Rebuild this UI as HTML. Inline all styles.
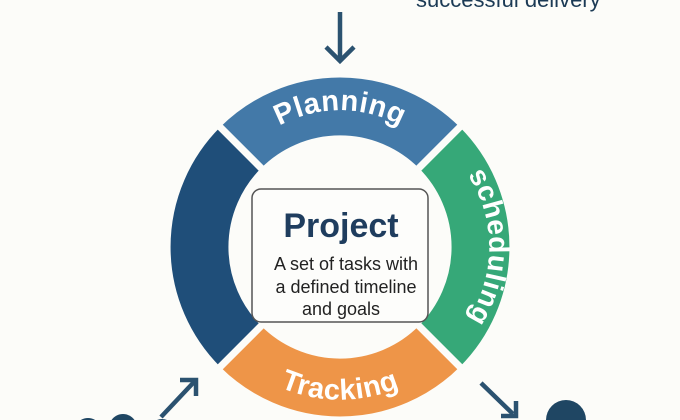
<!DOCTYPE html>
<html><head><meta charset="utf-8"><style>
html,body{margin:0;padding:0;background:#fcfcf9;width:680px;height:420px;overflow:hidden;}
svg{display:block;}
text{font-family:"Liberation Sans",sans-serif;}
</style></head><body>
<svg width="680" height="420" viewBox="0 0 680 420" xmlns="http://www.w3.org/2000/svg" style="overflow:hidden">
<defs>
<path id="pTop" d="M 248.9 149.2 A 126 126 0 0 1 431.1 149.2"/>
<path id="pRight" d="M 441 145 A 132 132 0 0 1 441 349"/>
<path id="pBot" d="M 232 355 A 153 153 0 0 0 448 355"/>
</defs>
<rect width="680" height="420" fill="#fcfcf9"/>
<text x="416" y="7" font-size="22" fill="#1b3a55">successful delivery</text>
<line x1="340" y1="12" x2="340" y2="61" stroke="#2b5270" stroke-width="4.5"/>
<polyline points="326,47 340,61 354,47" fill="none" stroke="#2b5270" stroke-width="4.5"/>
<g stroke="#fcfcf9" stroke-width="7">
<path d="M 217.7 124.7 A 173 173 0 0 1 462.3 124.7 L 416.4 170.6 A 108 108 0 0 0 263.6 170.6 Z" fill="#4379a8"/>
<path d="M 462.3 124.7 A 173 173 0 0 1 462.3 369.3 L 416.4 323.4 A 108 108 0 0 0 416.4 170.6 Z" fill="#36a878"/>
<path d="M 462.3 369.3 A 173 173 0 0 1 217.7 369.3 L 263.6 323.4 A 108 108 0 0 0 416.4 323.4 Z" fill="#ee9548"/>
<path d="M 217.7 369.3 A 173 173 0 0 1 217.7 124.7 L 263.6 170.6 A 108 108 0 0 0 263.6 323.4 Z" fill="#1f4e79"/>
</g>
<text font-size="29" font-weight="bold" fill="#fff" letter-spacing="0.5"><textPath href="#pTop" startOffset="50%" text-anchor="middle">Planning</textPath></text>
<text font-size="28" font-weight="bold" fill="#fff" letter-spacing="0.5"><textPath href="#pRight" startOffset="50%" text-anchor="middle">scheduling</textPath></text>
<text font-size="29" font-weight="bold" fill="#fff" letter-spacing="0.5"><textPath href="#pBot" startOffset="50%" text-anchor="middle">Tracking</textPath></text>
<rect x="252" y="189" width="176" height="133" rx="9" fill="#fdfdfb" stroke="#555" stroke-width="1.5"/>
<text x="341" y="237" font-size="34" font-weight="bold" fill="#1f3d5e" text-anchor="middle">Project</text>
<text x="346" y="270" font-size="18" fill="#222" text-anchor="middle">A set of tasks with</text>
<text x="346" y="293" font-size="18" fill="#222" text-anchor="middle">a defined timeline</text>
<text x="341" y="315" font-size="18" fill="#222" text-anchor="middle">and goals</text>
<line x1="161" y1="417" x2="194" y2="382" stroke="#2b5270" stroke-width="4.5"/>
<polyline points="180,380 196,380 196,396" fill="none" stroke="#2b5270" stroke-width="4.5"/>
<line x1="481" y1="383" x2="513" y2="414" stroke="#2b5270" stroke-width="4.5"/>
<polyline points="516,401 516,416 501,416" fill="none" stroke="#2b5270" stroke-width="4.5"/>
<path d="M80.8 420 A14 14 0 0 1 95.2 420 Z" fill="#1f4663"/>
<path d="M111.5 420 A14 14 0 0 1 134.5 420 Z" fill="#1f4663"/>
<path d="M157 420 A13 13 0 0 1 167 420 Z" fill="#1f4663"/>
<path d="M546 420 A20 20 0 0 1 586 420 Z" fill="#1f4663"/>
</svg>
</body></html>
